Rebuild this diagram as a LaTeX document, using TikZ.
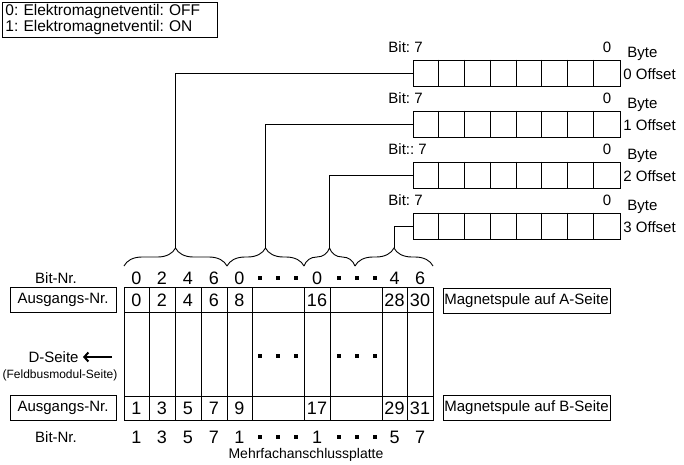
\documentclass[tikz,border=0pt]{standalone}
\usepackage{fontspec}
\setmainfont{Liberation Sans}
\frenchspacing
\usetikzlibrary{decorations.pathreplacing,arrows.meta}
\begin{document}
\begin{tikzpicture}[x=1pt,y=-1pt,line width=0.9pt,
  lbl/.style={inner sep=0pt,font=\fontsize{15}{17}\selectfont},
  small/.style={inner sep=0pt,font=\fontsize{12}{14}\selectfont},
  num/.style={inner sep=0pt,font=\fontsize{18}{20}\selectfont},
  regbox/.style={draw,minimum width=207pt,minimum height=26pt,inner sep=0pt},
  tagbox/.style={draw,minimum height=25pt,inner sep=0pt,font=\fontsize{15}{17}\selectfont},
  sq/.style={fill,minimum size=3.5pt,inner sep=0pt},
  brc/.style={decorate,decoration={brace,amplitude=18pt}}]
\useasboundingbox (0,0) rectangle (684,464);

% legend
\node[draw,anchor=north west,minimum width=215pt,minimum height=35pt,
      text width=209pt,inner xsep=3pt,inner ysep=2pt,align=left,
      font=\fontsize{15.5}{16}\selectfont] (legend) at (2,2)
  {0: Elektromagnetventil: OFF\\1: Elektromagnetventil: ON};

% byte registers
\foreach \i/\y/\b in {0/73/Bit: 7,1/124/Bit: 7,2/175/Bit:: 7,3/226/Bit: 7}{
  \node[regbox] (reg\i) at (516.5,\y) {};
  \foreach \k in {1,...,7}
    \draw ([xshift=\k*25.875pt]reg\i.north west) -- ([xshift=\k*25.875pt]reg\i.south west);
  \node[lbl,anchor=base west] (bh\i) at (388,\y-21) {\b};
  \node[lbl,anchor=base] (bl\i) at (607,\y-21) {0};
  \node[lbl,anchor=base west] (by\i) at (627,\y-16) {Byte};
  \node[lbl,anchor=base west] (of\i) at (623,\y+6) {\i\ Offset};
}

% braces and connectors
\draw[brc] (124,266) -- (227,266);
\draw[brc] (227,266) -- (304,266);
\draw[brc] (304,266) -- (355,266);
\draw[brc] (355,266) -- (433,266);
\coordinate (t0) at (175.5,248);
\coordinate (t1) at (265.5,248);
\coordinate (t2) at (329.5,248);
\coordinate (t3) at (394,248);
\foreach \i in {0,1,2,3} \draw (t\i) |- (reg\i.west);

% table
\node[draw,anchor=north west,minimum width=309pt,minimum height=133pt,inner sep=0pt] (tbl) at (124,287) {};
\draw (124,312) -- (433,312);
\draw (124,396) -- (433,396);
\foreach \x in {149,175,201,227,252,304,330,382,407}
  \draw (\x,287) -- (\x,420);

\foreach \x/\t in {136.5/0,162/2,188/4,214/6,239.5/8,317/16,394.5/28,420/30}
  \node[num] at (\x,300) {\t};
\foreach \x/\t in {136.5/1,162/3,188/5,214/7,239.5/9,317/17,394.5/29,420/31}
  \node[num] at (\x,408) {\t};
\foreach \x/\t in {136.5/0,162/2,188/4,214/6,239.5/0,317/0,394.5/4,420/6}
  \node[num] at (\x,278) {\t};
\foreach \x/\t in {136.5/1,162/3,188/5,214/7,239.5/1,317/1,394.5/5,420/7}
  \node[num] at (\x,437) {\t};
\foreach \yy in {278,356,437}
  \foreach \x in {260,278,296,339,357,375}
    \node[sq] at (\x,\yy) {};

% left labels
\node[lbl] (bnA) at (56,278) {Bit-Nr.};
\node[lbl] (bnB) at (56,437) {Bit-Nr.};
\node[tagbox,minimum width=106pt] (ausA) at (63,300) {Ausgangs-Nr.};
\node[tagbox,minimum width=106pt] (ausB) at (63,408) {Ausgangs-Nr.};
\node[lbl,anchor=east] (dseite) at (79,357) {D-Seite};
\coordinate (arr) at (112,357);
\draw[line width=2pt,-{Straight Barb[length=4pt,width=9pt]}] (arr) -- ([xshift=4pt]dseite.east);
\node[small] (feld) at (60,375) {(Feldbusmodul-Seite)};

% right labels
\node[tagbox,minimum width=167pt] (magA) at (526.5,300.5) {Magnetspule auf A-Seite};
\node[tagbox,minimum width=167pt] (magB) at (526.5,408) {Magnetspule auf B-Seite};

\node[lbl,font=\fontsize{14}{16}\selectfont] (mfp) at (306,455) {Mehrfachanschlussplatte};
\end{tikzpicture}
\end{document}
